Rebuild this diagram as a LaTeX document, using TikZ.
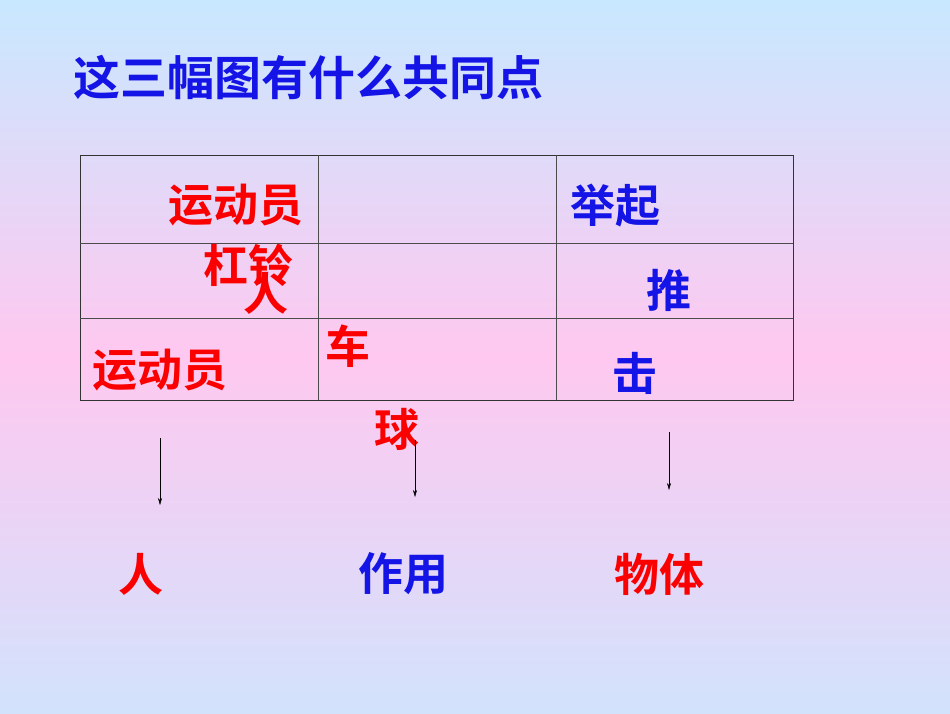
\documentclass[tikz,border=0pt]{standalone}
\usepackage{fontspec}
\usetikzlibrary{arrows.meta}
\newfontfamily\cjk{Noto Sans CJK SC Bold}
\definecolor{topc}{RGB}{200,232,255}
\definecolor{midc}{RGB}{255,200,240}
\definecolor{botc}{RGB}{210,226,252}
\definecolor{tred}{RGB}{250,0,0}
\definecolor{tblue}{RGB}{20,20,230}
\begin{document}
\begin{tikzpicture}[x=1pt,y=-1pt,
  red/.style={text=tred,font=\cjk\fontsize{45}{45}\selectfont,inner sep=0pt},
  blue/.style={text=tblue,font=\cjk\fontsize{45}{45}\selectfont,inner sep=0pt},
  big/.style={font=\cjk\fontsize{45}{45}\selectfont},
  arr/.style={-{Stealth[length=7pt,width=4pt]},thin}]
\useasboundingbox (0,0) rectangle (950,713);
\shade[top color=topc,bottom color=midc] (0,0) rectangle (950,356);
\shade[top color=midc,bottom color=botc] (0,356) rectangle (950,713);
\node[blue,font=\cjk\fontsize{47}{47}\selectfont,anchor=west] (title) at (73,77) {这三幅图有什么共同点};
\draw[line width=0.8pt,draw=black!80] (80,155) rectangle (793,400);
\draw[line width=0.6pt,draw=black!70] (80,243) -- (793,243) (80,318) -- (793,318) (318,155) -- (318,400) (556,155) -- (556,400);
\node[red] (a1) at (236,205) {运动员};
\node[red] (a2) at (248,265) {杠铃};
\node[red] (a3) at (266,293) {人};
\node[red] (a4) at (160,370) {运动员};
\node[red] (a5) at (348,346) {车};
\node[red] (a6) at (397,429) {球};
\node[blue] (b1) at (615,206) {举起};
\node[blue] (b2) at (669,290) {推};
\node[blue] (b3) at (635,373) {击};
\coordinate (s1) at (160,438); \coordinate (e1) at (160,505);
\coordinate (s2) at (415,440); \coordinate (e2) at (415,497);
\coordinate (s3) at (669,432); \coordinate (e3) at (669,490);
\draw[arr] (s1) -- (e1);
\draw[arr] (s2) -- (e2);
\draw[arr] (s3) -- (e3);
\node[red,big] (c1) at (141,574) {人};
\node[blue,big] (c2) at (403,574) {作用};
\node[red,big] (c3) at (659,574) {物体};
\end{tikzpicture}
\end{document}
